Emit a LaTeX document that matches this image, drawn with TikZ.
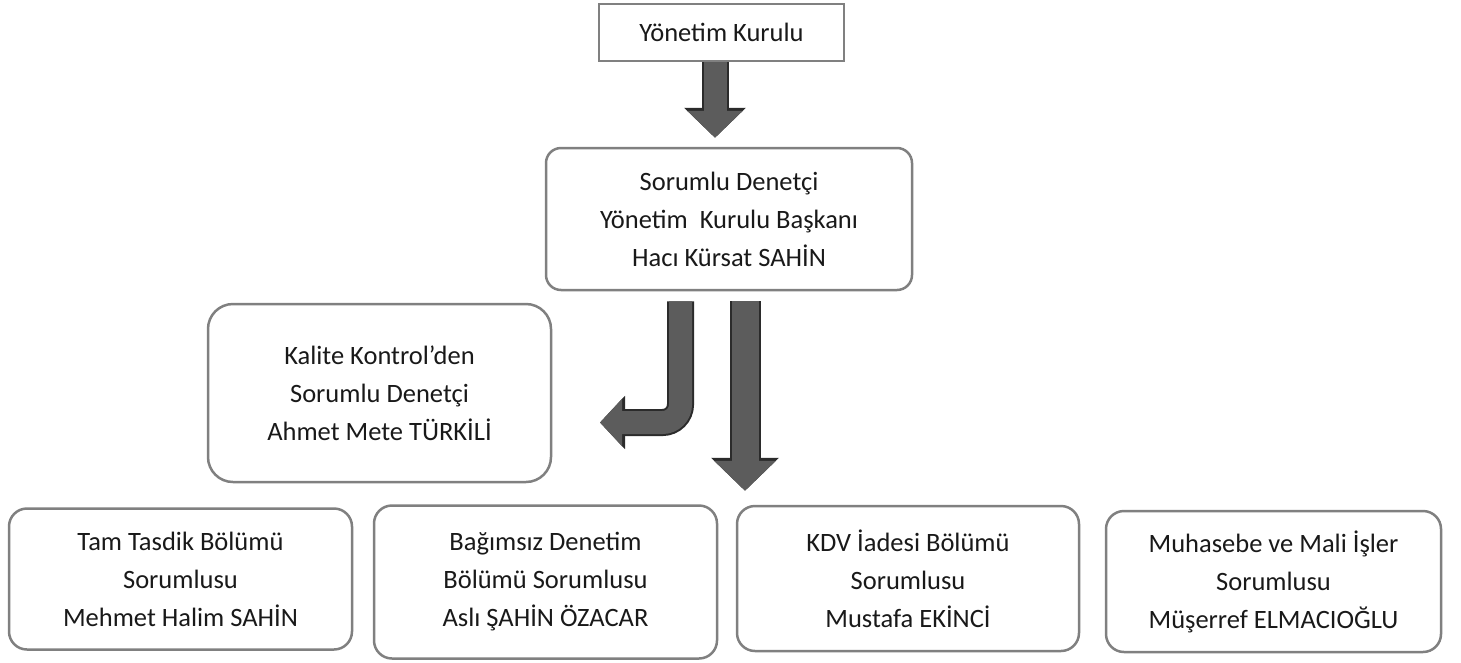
\documentclass[tikz,border=0pt]{standalone}
\usepackage{fontspec}
\setmainfont{Carlito}
\usepackage{xcolor}
\usetikzlibrary{arrows.meta}

\definecolor{boxgray}{gray}{0.5}
\definecolor{arrowgray}{gray}{0.36}
\definecolor{arrowdark}{gray}{0.17}
\definecolor{textblack}{gray}{0.1}

\tikzset{
  box/.style={draw=boxgray, line width=2.5pt, rounded corners=#1, align=center,
    inner sep=0pt, text=textblack, font=\fontsize{26.5}{38}\selectfont},
  box/.default=18pt,
  blockarr/.style={draw=arrowgray, line cap=butt},
  arrowrim/.style={draw=arrowdark, line cap=butt}
}

\begin{document}
\begin{tikzpicture}[x=1pt, y=-1pt]
  \useasboundingbox (0,0) rectangle (1461,662);

  % boxes
  \node[box=0pt, minimum width=245pt, minimum height=57pt] (yk) at (721.5,32.5) {Yönetim Kurulu};
  \node[box=15pt, minimum width=366pt, minimum height=142pt] (sd) at (729,219)
    {Sorumlu Denetçi\\Yönetim~ Kurulu Başkanı\\Hacı Kürsat SAHİN};
  \node[box=25pt, minimum width=343pt, minimum height=178pt] (kk) at (379.5,393)
    {Kalite Kontrol’den\\Sorumlu Denetçi\\Ahmet Mete TÜRKİLİ};
  \node[box, minimum width=343pt, minimum height=141pt] (tt) at (180.5,579)
    {Tam Tasdik Bölümü\\Sorumlusu\\Mehmet Halim SAHİN};
  \node[box, minimum width=343pt, minimum height=153pt] (bd) at (545.5,582)
    {Bağımsız Denetim\\Bölümü Sorumlusu\\Aslı ŞAHİN ÖZACAR};
  \node[box, minimum width=342pt, minimum height=145pt] (kdv) at (908,578.5)
    {KDV İadesi Bölümü\\Sorumlusu\\Mustafa EKİNCİ};
  \node[box, minimum width=335pt, minimum height=141pt] (mh) at (1273.5,581.5)
    {Muhasebe ve Mali İşler\\Sorumlusu\\Müşerref ELMACIOĞLU};

  % block arrows
  \coordinate (a1) at (715,0);
  \coordinate (a2) at (680.5,0);
  \coordinate (a3) at (745,0);
  \coordinate (kkend) at (600,422.5);

  \draw[blockarr, line width=23pt, -{Triangle[width=54pt,length=27pt]}, shorten >=9pt,
    preaction={arrowrim, line width=27pt, -{Triangle[width=60pt,length=30pt]}}]
    (a1 |- yk.south) -- (a1 |- sd.north);
  \draw[blockarr, line width=23pt, -{Triangle[width=46pt,length=22pt]},
    rounded corners=18pt, shorten <=10pt,
    preaction={arrowrim, line width=27pt, -{Triangle[width=52pt,length=25pt]}}]
    (a2 |- sd.south) |- (kkend);
  \draw[blockarr, line width=27pt, -{Triangle[width=60pt,length=30pt]},
    shorten <=10pt, shorten >=14pt,
    preaction={arrowrim, line width=31pt, -{Triangle[width=66pt,length=33pt]}}]
    (a3 |- sd.south) -- (a3 |- kdv.north);
\end{tikzpicture}
\end{document}
